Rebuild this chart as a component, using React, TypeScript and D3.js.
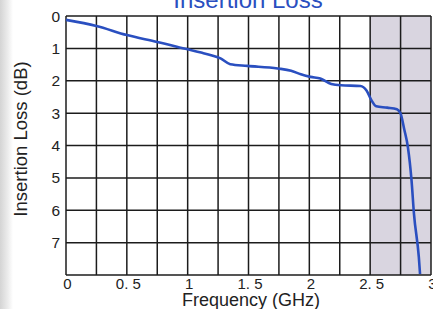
import React from "react";
import * as d3 from "d3";

const freqGHz = [0, 0.25, 0.5, 0.75, 1.0, 1.11, 1.2, 1.27, 1.35, 1.49, 1.74, 1.85, 1.93, 2.01, 2.09, 2.18, 2.26, 2.42, 2.47, 2.51, 2.55, 2.64, 2.72, 2.75, 2.78, 2.81, 2.84, 2.86, 2.9, 2.91];
const lossDB = [0.12, 0.31, 0.59, 0.8, 1.03, 1.13, 1.22, 1.31, 1.49, 1.54, 1.62, 1.69, 1.8, 1.88, 1.93, 2.1, 2.14, 2.16, 2.3, 2.6, 2.79, 2.83, 2.88, 3.01, 3.5, 4.05, 5.08, 6.11, 7.45, 7.97];
const xTickValues = [0, 0.5, 1, 1.5, 2, 2.5, 3];
const xTickLabels = ["0", "0. 5", "1", "1. 5", "2", "2. 5", "3"];
const yTickValues = [0, 1, 2, 3, 4, 5, 6, 7];
const xGridValues = d3.range(0, 3.001, 0.25);
const yGridValues = d3.range(0, 8.001, 1);
const bandRange = [2.5, 3];

const W = 433;
const H = 309;

export default function App() {
  const x = d3.scaleLinear().domain([0, 3]).range([66, 431]);
  const y = d3.scaleLinear().domain([0, 8]).range([16, 275]);
  const pts: [number, number][] = freqGHz.map((f, i) => [f, lossDB[i]]);
  const line = d3
    .line<[number, number]>()
    .x((d) => x(d[0]))
    .y((d) => y(d[1]))
    .curve(d3.curveMonotoneX);
  const font = "Liberation Sans, Arial, sans-serif";
  return (
    <div style={{ position: "absolute", left: 0, top: 0 }}>
      <svg width={W} height={H} style={{ display: "block", background: "#fff" }}>
        <defs>
          <linearGradient id="edge" x1="0" x2="1" y1="0" y2="0">
            <stop offset="0" stopColor="#d4d4d4" />
            <stop offset="0.6" stopColor="#ececec" />
            <stop offset="1" stopColor="#ffffff" />
          </linearGradient>
        </defs>
        <rect x={0} y={0} width={13} height={H} fill="url(#edge)" />
        <rect
          x={x(bandRange[0])}
          y={y(0)}
          width={x(bandRange[1]) - x(bandRange[0])}
          height={y(8) - y(0)}
          fill="#d9d5e0"
        />
        {xGridValues.map((v) => (
          <line key={"xg" + v} x1={x(v)} x2={x(v)} y1={y(0)} y2={y(8)} stroke="#1c1c1c" strokeWidth={1.5} />
        ))}
        {yGridValues.map((v) => (
          <line key={"yg" + v} x1={x(0)} x2={x(3)} y1={y(v)} y2={y(v)} stroke="#1c1c1c" strokeWidth={1.5} />
        ))}
        <path d={line(pts) || ""} fill="none" stroke="#2a4fc0" strokeWidth={2.6} strokeLinejoin="round" />
        {yTickValues.map((v) => (
          <text key={"yt" + v} x={60} y={y(v)} dy="0.36em" textAnchor="end" fontFamily={font} fontSize={15.5} fill="#222">
            {v}
          </text>
        ))}
        {xTickValues.map((v, i) => (
          <text key={"xt" + v} x={x(v) + 1.5} y={289} textAnchor="middle" fontFamily={font} fontSize={15} fill="#222">
            {xTickLabels[i]}
          </text>
        ))}
        <text x={251} y={306} textAnchor="middle" fontFamily={font} fontSize={18} fill="#222">
          Frequency (GHz)
        </text>
        <text
          transform={`translate(27, 139) rotate(-90)`}
          textAnchor="middle"
          fontFamily={font}
          fontSize={18.5}
          fill="#222"
        >
          Insertion Loss (dB)
        </text>
        <text x={248} y={8} textAnchor="middle" fontFamily={font} fontSize={24} fill="#2a4fc0">
          Insertion Loss
        </text>
      </svg>
    </div>
  );
}
